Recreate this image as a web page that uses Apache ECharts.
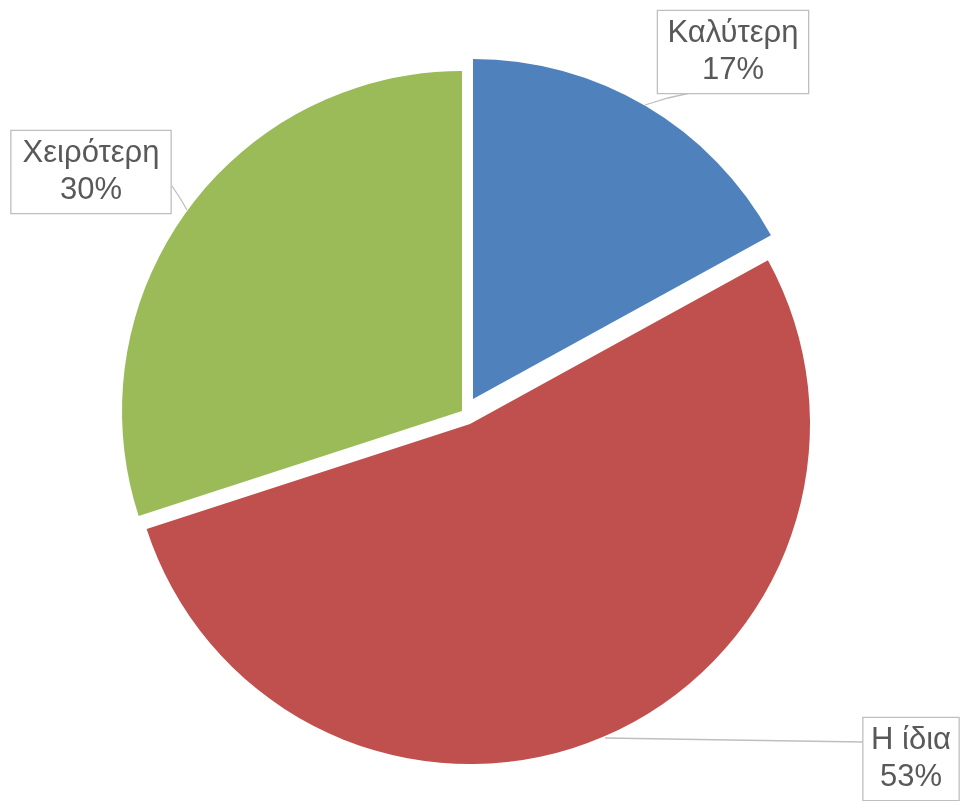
<!DOCTYPE html>
<html>
<head>
<meta charset="utf-8">
<script src="https://cdn.jsdelivr.net/npm/echarts@6/dist/echarts.min.js"></script>
<style>
  html, body { margin: 0; padding: 0; background: #fff; }
  #main { width: 961px; height: 801px; }
</style>
</head>
<body>
<div id="main"></div>
<script>
// data
const names = ['Καλύτερη', 'Η ίδια', 'Χειρότερη']
const values = [17, 53, 30]
const colors = ['#4F81BD', '#C0504D', '#9BBB59']

// each slice is pulled out of the pie by its own amount
const sliceCenters = [[473, 399], [470, 424], [462, 411]]
// callout boxes (centre, width) and tail points
const boxCenters = [[733, 52], [911, 759], [91, 172]]
const boxWidths = [150, 95, 159]
const tails = [
  [[645, 105], [668, 98], [690, 93]],
  [[605, 738], [730, 740], [863, 742]],
  [[187, 210], [180, 198], [172, 186]]
]

const chart = echarts.init(document.getElementById('main'), null, { renderer: 'canvas' })

const series = names.map((_, s) => ({
  type: 'pie',
  center: sliceCenters[s],
  radius: 340,
  startAngle: 90,
  clockwise: true,
  silent: true,
  animation: false,
  avoidLabelOverlap: false,
  label: {
    show: true,
    position: 'outside',
    formatter: (p) => p.name + '\n' + p.value + '%',
    fontFamily: 'Liberation Sans, Arial, sans-serif',
    fontSize: 31,
    lineHeight: 37,
    color: '#595959',
    align: 'center',
    width: boxWidths[s],
    backgroundColor: '#fff',
    borderColor: '#bfbfbf',
    borderWidth: 1.3,
    padding: [5, 0, 3, 0]
  },
  labelLine: {
    show: true,
    lineStyle: { color: '#bfbfbf', width: 1.3 }
  },
  labelLayout: (p) => ({
    x: boxCenters[s][0],
    y: boxCenters[s][1],
    align: 'center',
    verticalAlign: 'middle',
    labelLinePoints: tails[s]
  }),
  data: names.map((n, i) => ({
    name: n,
    value: values[i],
    itemStyle: { color: i === s ? colors[i] : 'rgba(0,0,0,0)' },
    label: { show: i === s },
    labelLine: { show: i === s }
  }))
}))

chart.setOption({
  backgroundColor: '#fff',
  series: series
})
</script>
</body>
</html>
